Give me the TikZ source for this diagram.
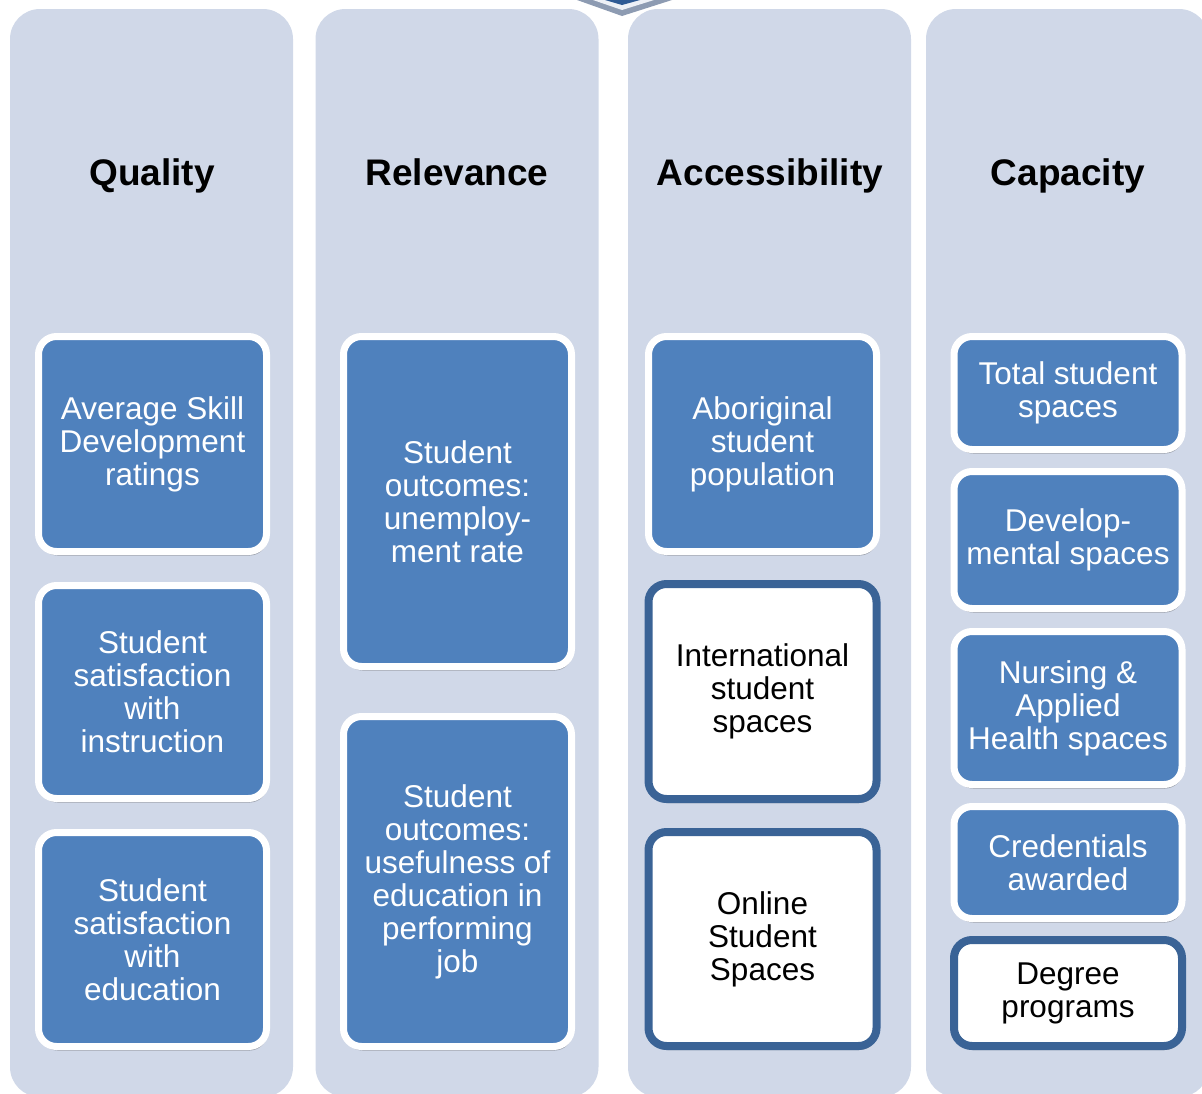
\documentclass[tikz,border=0pt]{standalone}
\usepackage{fontspec}
\setmainfont{Liberation Sans}
\usetikzlibrary{shadows}

\definecolor{colbg}{HTML}{D0D8E8}
\definecolor{kpiblue}{HTML}{4F81BD}
\definecolor{kpiline}{HTML}{3A6396}
\definecolor{tipgray}{HTML}{8D9BB2}
\definecolor{tiplight}{HTML}{EDF0F6}
\definecolor{tipdark}{HTML}{2E5A94}

\tikzset{
    col/.style={fill=colbg, rounded corners=30pt, minimum width=283pt,
        minimum height=1088pt, inner sep=0pt},
    head/.style={anchor=base, font=\fontsize{37}{40}\selectfont\bfseries},
    box/.style={rounded corners=18pt, align=center, minimum width=228pt,
        inner sep=0pt, font=\fontsize{31.5}{33}\selectfont,
        drop shadow={shadow xshift=1pt, shadow yshift=-4pt, opacity=0.3, fill=black}},
    kpi/.style={box, line width=7pt, draw=white, fill=kpiblue, text=white},
    kpiw/.style={box, line width=8pt, draw=kpiline, fill=white, text=black},
}

\begin{document}
\begin{tikzpicture}[x=1pt,y=-1pt]
    \useasboundingbox (0,0) rectangle (1202,1093);
    \clip (0,0) rectangle (1202,1093);

    % tip of the arrow above the columns
    \fill[tipgray]  (577,0) -- (622,16) -- (672,0) -- cycle;
    \fill[tiplight] (593,0) -- (622,10) -- (654,0) -- cycle;
    \fill[tipdark]  (605,0) -- (622,5)  -- (640,0) -- cycle;

    % columns
    \node[col] (colQ) at (151.5,553)  {};
    \node[col] (colR) at (457,553)    {};
    \node[col] (colA) at (769.5,553)  {};
    \node[col] (colC) at (1067.5,553) {};

    \node[head] (hQ) at (152,185)  {Quality};
    \node[head] (hR) at (457,185)  {Relevance};
    \node[head] (hA) at (770,185)  {Accessibility};
    \node[head] (hC) at (1068,185) {Capacity};

    % quality
    \node[kpi, minimum height=215pt] (q1) at (152.5,444)   {Average Skill\\Development\\ratings};
    \node[kpi, minimum height=213pt] (q2) at (152.5,692)   {Student\\satisfaction\\with\\instruction};
    \node[kpi, minimum height=214pt] (q3) at (152.5,939.5) {Student\\satisfaction\\with\\education};

    % relevance
    \node[kpi, minimum height=330pt] (r1) at (457.5,501.5) {Student\\outcomes:\\unemploy-\\ment rate};
    \node[kpi, minimum height=330pt] (r2) at (457.5,881.5) {Student\\outcomes:\\usefulness of\\education in\\performing\\job};

    % accessibility
    \node[kpi,  minimum height=215pt] (a1) at (762.5,444)   {Aboriginal\\student\\population};
    \node[kpiw, minimum height=215pt] (a2) at (762.5,691.5) {International\\student\\spaces};
    \node[kpiw, minimum height=214pt] (a3) at (762.5,939)   {Online\\Student\\Spaces};

    % capacity
    \node[kpi,  minimum height=113pt] (c1) at (1068,393)   {Total student\\spaces};
    \node[kpi,  minimum height=137pt] (c2) at (1068,540)   {Develop-\\mental spaces};
    \node[kpi,  minimum height=153pt] (c3) at (1068,708)   {Nursing \&\\Applied\\Health spaces};
    \node[kpi,  minimum height=112pt] (c4) at (1068,862.5) {Credentials\\awarded};
    \node[kpiw, minimum height=106pt] (c5) at (1068,993)   {Degree\\programs};
\end{tikzpicture}
\end{document}
